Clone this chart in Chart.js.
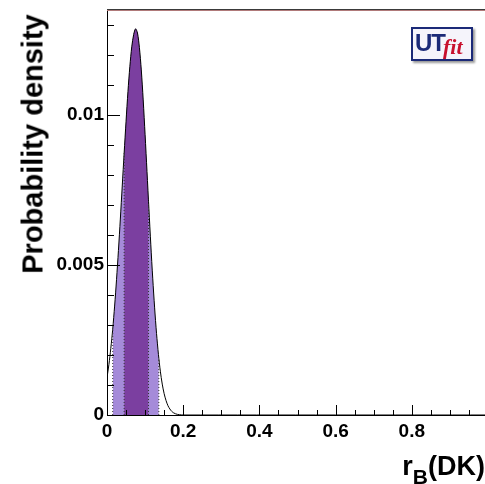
<!DOCTYPE html>
<html>
<head>
<meta charset="utf-8">
<script src="https://cdn.jsdelivr.net/npm/chart.js@4.4.1/dist/chart.umd.min.js"></script>
<style>
  html, body { margin: 0; padding: 0; background: #fff; overflow: hidden; width: 485px; height: 484px; }
  #wrap { position: relative; width: 485px; height: 484px; overflow: hidden; }
  #grafica { position: absolute; left: 0; top: 0; }
  .lbl { position: absolute; font-family: "Liberation Sans", Arial, sans-serif; font-weight: bold; color: #000; white-space: nowrap; }
  #ylab { font-size: 29px; left: 33px; top: 144px; transform: translate(-50%, -50%) rotate(-90deg); }
  #xlab { font-size: 27px; right: 0px; top: 451px; }
  #xlab sub { font-size: 21px; vertical-align: -9px; line-height: 0; }
  #logo { position: absolute; left: 411px; top: 27px; width: 58px; height: 30px; border: 2px solid #1b2a78;
          background: #f5f4fb; box-shadow: 2px 2px 2px #9a9a9a; }
  #logo .ut { position: absolute; left: 2px; top: 0px; font-family: "Liberation Sans", Arial, sans-serif; font-weight: bold;
              font-size: 24px; color: #1b2a78; letter-spacing: -1px; }
  #logo .fit { position: absolute; left: 30px; top: 5px; font-family: "Liberation Serif", "DejaVu Serif", serif; font-style: italic;
               font-weight: bold; font-size: 22px; color: #c8102e; }
</style>
</head>
<body>
<div id="wrap">
  <canvas id="grafica" width="492" height="484"></canvas>
  <div class="lbl" id="ylab">Probability density</div>
  <div class="lbl" id="xlab">r<sub>B</sub>(DK)</div>
  <div id="logo"><span class="ut">UT</span><span class="fit">fit</span></div>
</div>
<script>
// datos (r_B vs densidad)
    const rbX = [0, 0.005, 0.01, 0.015, 0.02, 0.025, 0.03, 0.035, 0.04, 0.045, 0.05, 0.055, 0.06, 0.065, 0.07, 0.075,
                 0.08, 0.085, 0.09, 0.095, 0.1, 0.105, 0.11, 0.115, 0.12, 0.125, 0.13, 0.135, 0.14, 0.145, 0.15,
                 0.155, 0.16, 0.165, 0.17, 0.175, 0.18, 0.185, 0.19, 0.2, 1.0];
    const density = [0.00125, 0.00168, 0.00222, 0.00286, 0.00363, 0.00451, 0.00548, 0.00653, 0.00763, 0.00873, 0.00979,
                     0.01078, 0.01162, 0.01227, 0.01268, 0.01287, 0.01273, 0.01225, 0.01150, 0.01050, 0.00934, 0.00811,
                     0.00687, 0.00567, 0.00456, 0.00357, 0.00272, 0.00202, 0.00146, 0.00103, 0.00071, 0.00048,
                     0.00031, 0.0002, 0.00012, 0.00007, 0.00004, 0.00002, 0.00001, 0, 0];

// intervalos 95% y 68%
    const band95 = [0.015, 0.136];
    const band68 = [0.045, 0.109];
    const edge95 = [0.00286, 0.00188];
    const edge68 = [0.00873, 0.00712];

    const yTicks = [0, 0.005, 0.01];
    const xTicks = [0, 0.2, 0.4, 0.6, 0.8];

    function bandData(lim, edge) {
        let pts = [{ x: lim[0], y: edge[0] }];
        for (let i = 0; i < rbX.length; i++) {
            if (rbX[i] > lim[0] && rbX[i] < lim[1]) pts.push({ x: rbX[i], y: density[i] });
        }
        pts.push({ x: lim[1], y: edge[1] });
        return pts;
    }

    function edgeLine(xv, yv) {
        return {
            data: [{ x: xv, y: 0 }, { x: xv, y: yv }],
            borderColor: '#333', borderWidth: 1, borderDash: [1, 2],
            pointRadius: 0, fill: false, order: 0
        };
    }

    const curve = rbX.map((v, i) => ({ x: v, y: density[i] }));

// marcas hacia dentro y linea superior
    const innerTicks = {
        id: 'innerTicks',
        afterDraw(chart) {
            const c = chart.ctx, xs = chart.scales.x, ys = chart.scales.y, a = chart.chartArea;
            c.save();
            c.strokeStyle = '#000';
            c.lineWidth = 1;
            for (let k = 0; k <= 20; k++) {
                let v = k * 0.05;
                let px = Math.round(xs.getPixelForValue(v)) + 0.5;
                let len = (k % 4 === 0) ? 10 : 5;
                c.beginPath(); c.moveTo(px, a.bottom); c.lineTo(px, a.bottom - len); c.stroke();
            }
            for (let k = 0; k <= 13; k++) {
                let v = k * 0.001;
                let py = Math.round(ys.getPixelForValue(v)) + 0.5;
                let len = (k % 5 === 0) ? 13 : 7;
                c.beginPath(); c.moveTo(a.left, py); c.lineTo(a.left + len, py); c.stroke();
            }
            c.strokeStyle = '#3a3a3a';
            c.beginPath(); c.moveTo(a.left, a.top + 0.5); c.lineTo(a.right, a.top + 0.5); c.stroke();
            c.strokeStyle = '#b07a7a';
            c.beginPath(); c.moveTo(a.left, a.top + 1.5); c.lineTo(a.right, a.top + 1.5); c.stroke();
            c.restore();
        }
    };

    const ctx = document.getElementById('grafica').getContext('2d');
    const chart = new Chart(ctx, {
        type: 'line',
        data: {
            datasets: [
                { data: curve, borderColor: '#000', borderWidth: 1, pointRadius: 0, fill: false, tension: 0.3, order: 1 },
                edgeLine(band95[0], edge95[0]), edgeLine(band95[1], edge95[1]),
                edgeLine(band68[0], edge68[0]), edgeLine(band68[1], edge68[1]),
                { data: bandData(band68, edge68), borderWidth: 0, pointRadius: 0, fill: 'origin',
                  backgroundColor: '#7b3fa0', tension: 0.3, order: 2 },
                { data: bandData(band95, edge95), borderWidth: 0, pointRadius: 0, fill: 'origin',
                  backgroundColor: '#a58bd9', tension: 0.3, order: 3 }
            ]
        },
        options: {
            responsive: false,
            animation: false,
            layout: { padding: { top: 9, right: 4, left: 0, bottom: 0 } },
            plugins: { legend: { display: false }, tooltip: { enabled: false } },
            scales: {
                x: {
                    type: 'linear', min: 0, max: 1,
                    afterFit(s) { s.height = 69; s.paddingLeft = 0; s.paddingRight = 0; },
                    afterBuildTicks(s) { s.ticks = xTicks.map(v => ({ value: v })); },
                    grid: { display: false, drawTicks: false },
                    border: { display: true, color: '#000', width: 1 },
                    ticks: {
                        padding: 5, color: '#000', maxRotation: 0,
                        font: { family: 'Liberation Sans', weight: 'bold', size: 19 },
                        callback: v => String(v)
                    }
                },
                y: {
                    min: 0, max: 0.01353,
                    afterFit(s) { s.width = 107; s.paddingTop = 0; s.paddingBottom = 0; },
                    afterBuildTicks(s) { s.ticks = yTicks.map(v => ({ value: v })); },
                    grid: { display: false, drawTicks: false },
                    border: { display: true, color: '#000', width: 1 },
                    ticks: {
                        padding: 3, color: '#000',
                        font: { family: 'Liberation Sans', weight: 'bold', size: 19 },
                        callback: v => String(v)
                    }
                }
            }
        },
        plugins: [innerTicks]
    });
</script>
</body>
</html>
